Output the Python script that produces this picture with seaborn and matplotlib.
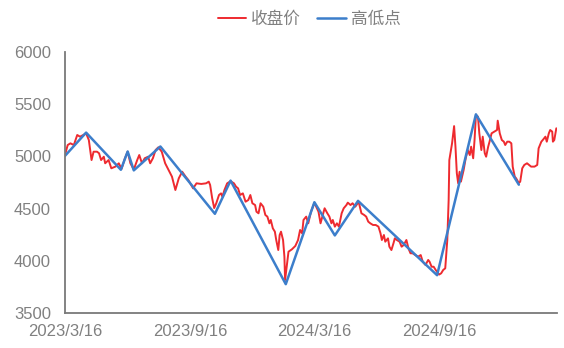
import matplotlib
matplotlib.use("Agg")
import matplotlib.pyplot as plt
import seaborn as sns
import pandas as pd
import numpy as np

start_date = "2023-03-16"

# closing price: day offset from 2023/3/16 and value
red_day = [0, 4, 8, 13, 18, 22, 27, 31, 35, 39, 42, 47, 50, 53, 57, 59, 64, 68, 74, 79,
           83, 88, 92, 96, 101, 106, 109, 113, 117, 122, 125, 129, 133, 137, 142, 147,
           152, 157, 162, 167, 172, 177, 181, 188, 193, 200, 207, 211, 213, 216, 219,
           222, 226, 229, 231, 234, 238, 243, 248, 251, 254, 257, 261, 265, 269, 272,
           275, 279, 281, 284, 287, 291, 294, 297, 300, 302, 305, 308, 310, 313, 315,
           317, 320, 322, 323, 326, 328, 333, 338, 342, 345, 348, 350, 354, 357, 361,
           366, 372, 375, 379, 381, 385, 388, 391, 393, 396, 399, 402, 406, 409, 413,
           415, 419, 422, 426, 431, 435, 439, 442, 445, 448, 452, 456, 460, 463, 465,
           468, 470, 474, 476, 479, 482, 484, 487, 491, 494, 497, 501, 504, 507, 510,
           514, 518, 522, 525, 529, 533, 535, 538, 541, 544, 549, 552, 555, 558, 561,
           563, 564, 568, 571, 573, 575, 577, 579, 581, 585, 588, 591, 594, 596, 599,
           601, 603, 606, 608, 611, 613, 616, 618, 621, 623, 626, 630, 634, 635, 638,
           641, 644, 646, 649, 652, 655, 657, 660, 662, 666, 668, 671, 674, 678, 681,
           684, 689, 693, 695, 699, 702, 705, 707, 710, 712, 715, 716, 718, 721]
red_close = [5013, 5109, 5125, 5109, 5205, 5189, 5205, 5221, 5157, 4965, 5045, 5045, 5030,
             4965, 4997, 4934, 4965, 4886, 4902, 4934, 4880, 4982, 5045, 4934, 4875, 4965,
             5013, 4934, 4982, 4997, 4934, 4982, 5061, 5087, 5045, 4934, 4870, 4806, 4678,
             4790, 4853, 4806, 4774, 4694, 4742, 4736, 4742, 4758, 4726, 4599, 4505, 4551,
             4630, 4646, 4614, 4678, 4742, 4762, 4742, 4710, 4694, 4630, 4646, 4566, 4582,
             4630, 4551, 4534, 4470, 4455, 4551, 4518, 4439, 4423, 4359, 4391, 4311, 4279,
             4199, 4103, 4247, 4279, 4199, 4039, 3816, 3976, 4087, 4110, 4142, 4199, 4295,
             4263, 4391, 4423, 4359, 4470, 4555, 4470, 4359, 4455, 4503, 4455, 4423, 4359,
             4391, 4327, 4359, 4327, 4455, 4503, 4534, 4557, 4534, 4551, 4518, 4565, 4455,
             4439, 4423, 4375, 4359, 4343, 4343, 4327, 4263, 4199, 4247, 4183, 4215, 4135,
             4103, 4167, 4215, 4199, 4183, 4135, 4151, 4199, 4119, 4072, 4072, 4055, 4039,
             4055, 3991, 3960, 4008, 3991, 3943, 3943, 3912, 3868, 3880, 3912, 3928, 4199,
             4582, 4965, 5125, 5290, 5093, 4838, 4742, 4853, 4758, 4870, 4982, 5061, 5013,
             5093, 4982, 5157, 5395, 5380, 5221, 5061, 5189, 5030, 4997, 5093, 5141, 5221,
             5237, 5253, 5342, 5221, 5157, 5141, 5109, 5141, 5141, 5125, 4902, 4806, 4790,
             4745, 4758, 4886, 4918, 4934, 4918, 4902, 4902, 4918, 5077, 5141, 5164, 5189,
             5141, 5221, 5253, 5237, 5141, 5157, 5269]

# swing high / low points
blue_day = [0, 31, 82, 92, 101, 140, 220, 243, 324, 366, 396, 430, 546, 603, 666]
blue_value = [5005, 5228, 4872, 5047, 4866, 5095, 4450, 4768, 3776, 4561, 4243, 4574,
              3862, 5403, 4729]

tick_dates = ["2023-03-16", "2023-09-16", "2024-03-16", "2024-09-16"]
tick_labels = ["2023/3/16", "2023/9/16", "2024/3/16", "2024/9/16"]
y_ticks = [3500, 4000, 4500, 5000, 5500, 6000]

red_color = "#EE2A2F"
blue_color = "#3C7ECB"
gray = "#808080"

t0 = pd.Timestamp(start_date)
df_red = pd.DataFrame({"date": t0 + pd.to_timedelta(red_day, unit="D"), "value": red_close})
df_blue = pd.DataFrame({"date": t0 + pd.to_timedelta(blue_day, unit="D"), "value": blue_value})

sns.set_theme(style="white")
plt.rcParams["font.family"] = ["Liberation Sans", "Noto Sans CJK SC", "DejaVu Sans"]

fig = plt.figure(figsize=(5.64, 3.48), dpi=100)
ax = fig.add_axes([0.1152, 0.1006, 0.8724, 0.75])

sns.lineplot(data=df_red, x="date", y="value", ax=ax, color=red_color, linewidth=1.4,
             label="收盘价")
sns.lineplot(data=df_blue, x="date", y="value", ax=ax, color=blue_color, linewidth=1.8,
             label="高低点")

ax.set_xlim(t0, t0 + pd.Timedelta(days=722))
ax.set_ylim(3500, 6000)
ax.set_yticks(y_ticks)
ax.set_yticklabels([str(v) for v in y_ticks])
ax.set_xticks(pd.to_datetime(tick_dates))
ax.set_xticklabels(tick_labels)
ax.set_xlabel("")
ax.set_ylabel("")

for side in ["top", "right"]:
    ax.spines[side].set_visible(False)
for side in ["left", "bottom"]:
    ax.spines[side].set_color("#7a7a7a")
    ax.spines[side].set_linewidth(1.3)

ax.tick_params(axis="both", direction="in", length=3, width=1, color="#555555",
               labelcolor=gray, labelsize=12)
ax.tick_params(axis="y", pad=10)
ax.tick_params(axis="x", pad=8)

leg = ax.get_legend()
if leg is not None:
    leg.remove()
handles, labels = ax.get_legend_handles_labels()
fig.legend(handles, labels, loc="center", bbox_to_anchor=(0.548, 0.945), ncol=2,
           frameon=False, fontsize=12, handlelength=1.7, handletextpad=0.3,
           columnspacing=1.0, labelcolor=gray)

fig.savefig("out.png", dpi=100, facecolor="white")
